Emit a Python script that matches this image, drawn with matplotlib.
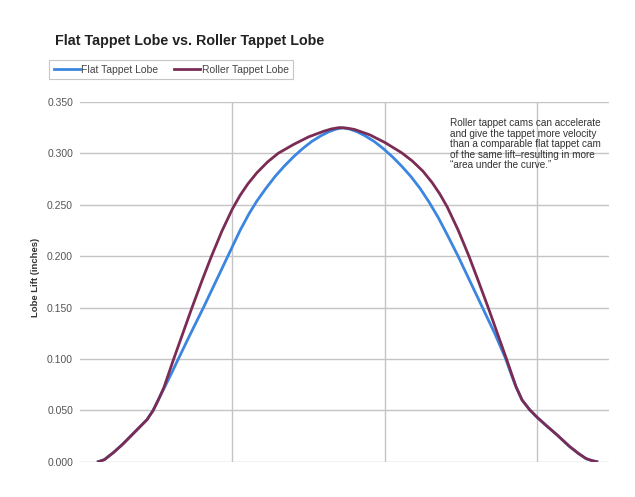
import numpy as np
import matplotlib
matplotlib.use("Agg")
import matplotlib.pyplot as plt
from matplotlib.lines import Line2D

# cam position (arbitrary units, the x axis has no labels) and lobe lift in inches
flat_x = [12, 16, 22, 28, 36, 44, 48, 51, 55, 60, 64.5, 72, 81, 89, 97, 105, 111,
          116, 122, 128, 134, 140, 146, 152, 158, 163, 168, 172.5, 177, 182, 187,
          193, 199, 205, 211, 217, 223, 229, 235, 241, 248, 256, 264, 272, 279,
          283, 286, 290, 295, 300, 306, 313, 321, 327, 332, 336, 339]
flat_lift = [0.0, 0.002, 0.009, 0.017, 0.029, 0.041, 0.050, 0.059, 0.071, 0.086,
             0.100, 0.123, 0.150, 0.175, 0.200, 0.225, 0.2415, 0.2535, 0.266, 0.2775,
             0.2875, 0.2965, 0.3045, 0.3115, 0.317, 0.3208, 0.3235, 0.3248, 0.3235,
             0.3208, 0.317, 0.3115, 0.3045, 0.2965, 0.2875, 0.2775, 0.266, 0.2525,
             0.2375, 0.2205, 0.200, 0.175, 0.150, 0.125, 0.101, 0.0845, 0.073, 0.060,
             0.0505, 0.043, 0.035, 0.026, 0.015, 0.008, 0.003, 0.001, 0.0]

roller_x = [12, 16, 22, 28, 36, 44, 48, 51, 55, 61, 67, 73, 80, 86, 93, 100, 105,
            110, 116, 123, 130, 140, 150, 160, 165, 170, 175, 180, 190, 200, 211,
            218, 225, 231, 236, 241, 248, 255, 261, 268, 274, 280, 286, 290, 295,
            300, 306, 313, 321, 327, 332, 336, 339]
roller_lift = [0.0, 0.002, 0.009, 0.017, 0.029, 0.041, 0.050, 0.059, 0.072, 0.098,
               0.123, 0.148, 0.176, 0.199, 0.224, 0.246, 0.259, 0.270, 0.281, 0.2915,
               0.300, 0.3085, 0.316, 0.3215, 0.3237, 0.325, 0.3245, 0.3232, 0.318,
               0.3105, 0.3005, 0.2925, 0.2825, 0.2715, 0.2605, 0.2475, 0.2255, 0.2005,
               0.177, 0.149, 0.124, 0.099, 0.073, 0.060, 0.0505, 0.043, 0.035, 0.026,
               0.015, 0.008, 0.003, 0.001, 0.0]

y_ticks = [0.0, 0.05, 0.10, 0.15, 0.20, 0.25, 0.30, 0.35]
x_grid = [100, 200, 300]

note = ("Roller tappet cams can accelerate\n"
        "and give the tappet more velocity\n"
        "than a comparable flat tappet cam\n"
        "of the same lift\u2013resulting in more\n"
        "\u201carea under the curve.\u201d")

blue = "#3a86e0"
maroon = "#7b2c55"

plt.rcParams["font.family"] = ["Liberation Sans", "DejaVu Sans"]

fig = plt.figure(figsize=(6.35, 4.97), dpi=100)
ax = fig.add_axes([0.126, 0.071, 0.833, 0.724])

ax.plot(flat_x, flat_lift, color=blue, lw=2.0, zorder=3, solid_joinstyle="round")
ax.plot(roller_x, roller_lift, color=maroon, lw=2.0, zorder=4, solid_joinstyle="round")

ax.set_xlim(0, 347)
ax.set_ylim(0, 0.35)
ax.set_yticks(y_ticks)
ax.set_yticklabels(["{:.3f}".format(v) for v in y_ticks], fontsize=7.5, color="#555555")
ax.set_xticks(x_grid)
ax.set_xticklabels([])
ax.tick_params(length=0, pad=5)
ax.grid(True, color="#c4c4c4", lw=1.0)
ax.set_axisbelow(True)
for s in ax.spines.values():
    s.set_visible(False)

fig.text(35 / 635, 1 - 277 / 497, "Lobe Lift (inches)", rotation=90, fontsize=6.8,
         fontweight="bold", color="#333333", ha="center", va="center")

fig.text(55 / 635, 1 - 41 / 497, "Flat Tappet Lobe vs. Roller Tappet Lobe", fontsize=10.3,
         fontweight="bold", color="#222222", va="center")

handles = [Line2D([0], [0], color=blue, lw=2), Line2D([0], [0], color=maroon, lw=2)]
leg = fig.legend(handles, ["Flat Tappet Lobe", "Roller Tappet Lobe"], loc="upper left",
                 bbox_to_anchor=(49 / 635, 1 - 60 / 497), ncol=2, fontsize=7.5,
                 frameon=True, fancybox=False, edgecolor="#b8b8b8", handlelength=2.5,
                 handletextpad=0.15, columnspacing=1.5, borderpad=0.45,
                 borderaxespad=0)
leg.get_frame().set_linewidth(0.8)
for t in leg.get_texts():
    t.set_color("#444444")

fig.text(450 / 635, 1 - 118 / 497, note, fontsize=7.2, color="#333333", va="top",
         linespacing=1.07)

fig.savefig("out.png", dpi=100, facecolor="white")
